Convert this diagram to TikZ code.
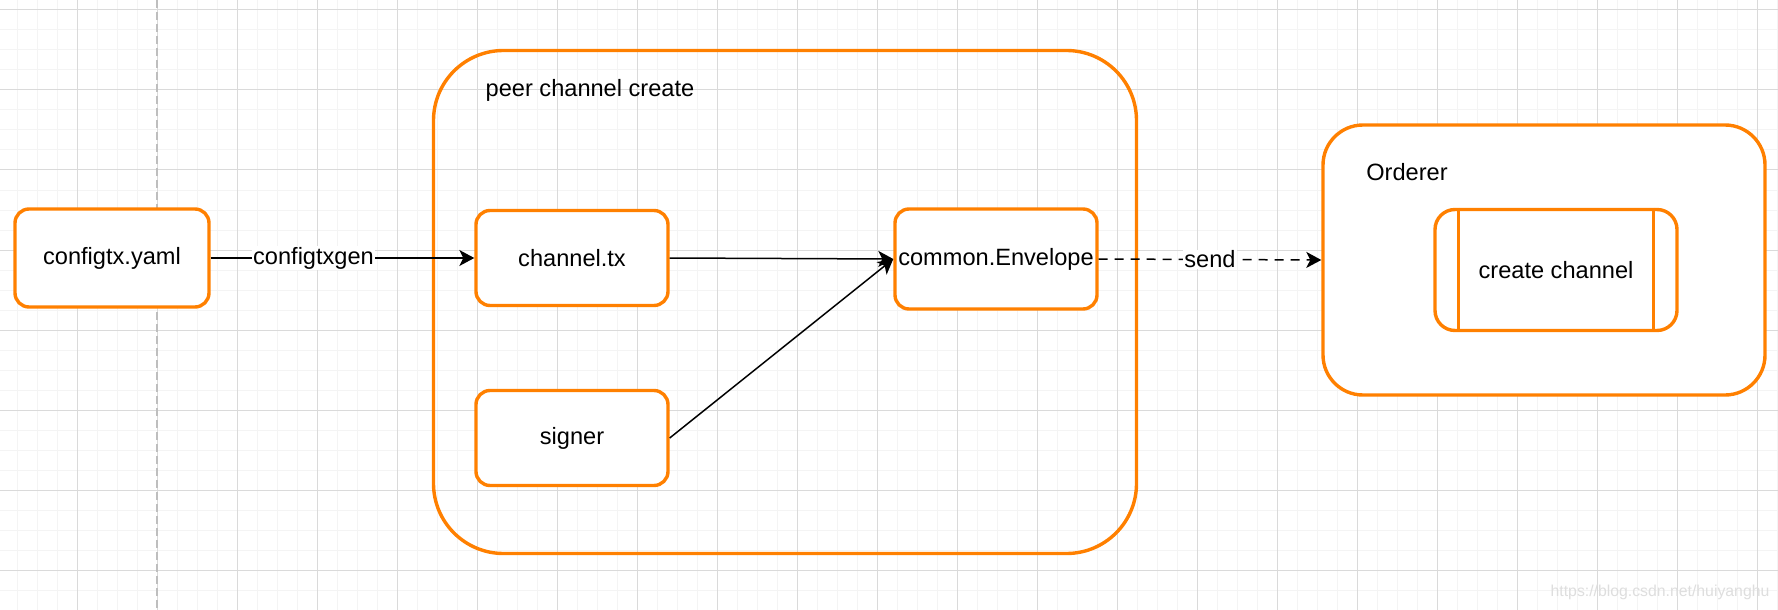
\documentclass[tikz,border=0pt]{standalone}
\usepackage{fontspec}
\setmainfont{Liberation Sans}
\usetikzlibrary{arrows.meta}
\definecolor{drawio}{RGB}{255,128,0}
\definecolor{gridmajor}{RGB}{218,218,218}
\definecolor{gridminor}{RGB}{244,244,244}
\definecolor{guide}{RGB}{190,190,190}
\definecolor{watermark}{RGB}{222,222,222}

\begin{document}
\begin{tikzpicture}[x=0.5pt,y=-0.5pt,
  every node/.style={font=\fontsize{11.8}{14}\selectfont},
  box/.style={draw=drawio,line width=1.7pt,fill=white,rounded corners=7pt,
    minimum width=96pt,minimum height=47.5pt,inner sep=0pt},
  group/.style={draw=drawio,line width=1.7pt,inner sep=0pt},
  link/.style={line width=0.75pt,-{Stealth[length=7.5pt,width=8pt,inset=2pt]}},
  tag/.style={fill=white,inner sep=0.5pt}]
  \useasboundingbox (0,0) rectangle (1778,610);
  % background grid
  \fill[white] (0,0) rectangle (1778,610);
  \foreach \x in {17,37,...,1777} \draw[gridminor,line width=0.5pt] (\x,0) -- (\x,610);
  \foreach \y in {10,30,...,610} \draw[gridminor,line width=0.5pt] (0,\y) -- (1778,\y);
  \foreach \x in {77,157,...,1757} \draw[gridmajor,line width=0.5pt] (\x,0) -- (\x,610);
  \foreach \y in {10,90,...,570} \draw[gridmajor,line width=0.5pt] (0,\y) -- (1778,\y);
  \draw[guide,line width=0.8pt,dash pattern=on 4pt off 2pt] (157,0) -- (157,610);
  % peer channel create
  \node[group,rounded corners=35pt,minimum width=351.5pt,minimum height=251.5pt] (peer) at (785,302) {};
  \node (peerlbl) at (590,90) {peer channel create};
  \node[box,minimum width=97pt,minimum height=49pt] (yaml) at (112,258) {configtx.yaml};
  \node[box] (chtx) at (572,258) {channel.tx};
  \node[box] (signer) at (572,438) {signer};
  \node[box,minimum width=101pt,minimum height=50pt] (env) at (996,259) {common.Envelope};
  % orderer
  \node[group,fill=white,rounded corners=20pt,minimum width=221pt,minimum height=135pt] (orderer) at (1544,260) {};
  \node (ordlbl) at (1407,172) {Orderer};
  \node[box,minimum width=121pt,minimum height=60.5pt,rounded corners=10pt] (create) at (1556,270) {create channel};
  \draw[drawio,line width=1.7pt] ([xshift=12.5pt]create.north west) -- ([xshift=12.5pt]create.south west);
  \draw[drawio,line width=1.7pt] ([xshift=-12.5pt]create.north east) -- ([xshift=-12.5pt]create.south east);
  % connectors
  \draw[link] (yaml) -- node[tag,pos=0.39] {configtxgen} (chtx);
  \draw[link] (chtx.east) -- (env.west);
  \draw[link] (signer.east) -- (env.west);
  \draw[link,dash pattern=on 4.5pt off 3.5pt] (env.east) -- node[tag] {send} (orderer.west);
  \node[watermark,font=\fontsize{7.9}{9}\selectfont] (mark) at (1660,592) {https://blog.csdn.net/huiyanghu};
\end{tikzpicture}
\end{document}
